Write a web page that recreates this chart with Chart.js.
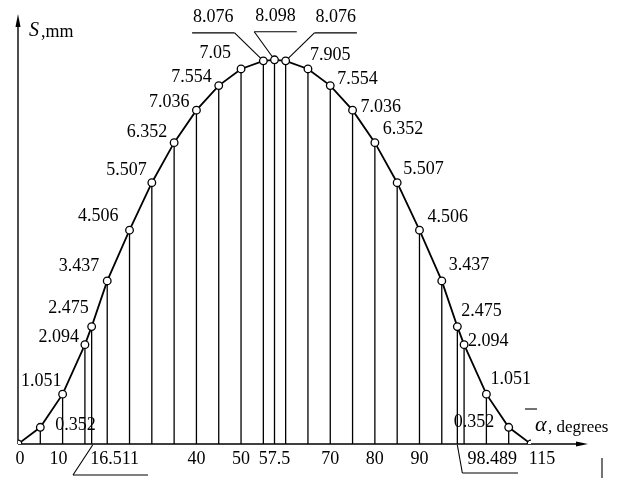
<!DOCTYPE html>
<html>
<head>
<meta charset="utf-8">
<script src="https://cdn.jsdelivr.net/npm/chart.js@4.4.0/dist/chart.umd.min.js"></script>
<style>
  html, body { margin:0; padding:0; background:#fff; }
  #wrap { width:625px; height:479px; }
</style>
</head>
<body>
<div id="wrap"><canvas id="cam" width="625" height="479"></canvas></div>
<script>
// ===== data =====
var ANGLES = [0, 5, 10, 15, 16.511, 20, 25, 30, 35, 40, 45, 50, 55, 57.5, 60, 65, 70, 75, 80, 85, 90, 95, 98.489, 100, 105, 110, 115];
var DISP = [0, 0.352, 1.051, 2.094, 2.475, 3.437, 4.506, 5.507, 6.352, 7.036, 7.554, 7.905, 8.076, 8.098, 8.076, 7.905, 7.554, 7.036, 6.352, 5.507, 4.506, 3.437, 2.475, 2.094, 1.051, 0.352, 0];
var POINT_LABELS = ["", "0.352", "1.051", "2.094", "2.475", "3.437", "4.506", "5.507", "6.352", "7.036", "7.554", "7.05", "8.076", "8.098", "8.076", "7.905", "7.554", "7.036", "6.352", "5.507", "4.506", "3.437", "2.475", "2.094", "1.051", "0.352", ""];
var X_TICKS = [0, 10, 16.511, 40, 50, 57.5, 70, 80, 90, 98.489, 115];
var X_TICK_LABELS = ["0", "10", "16.511", "40", "50", "57.5", "70", "80", "90", "98.489", "115"];

var FONT = "'Liberation Serif', 'DejaVu Serif', serif";

// label nudges: [align, dx, dy] relative to the point
var NUDGE = {
  1: ["left", 15, -2],   2: ["right", -1, -13], 3: ["right", -6, -7],  4: ["right", -3, -18],
  5: ["right", -8, -15], 6: ["right", -11, -14], 7: ["right", -5, -12], 8: ["right", -7, -10],
  9: ["right", -7, -8],  10: ["right", -7, -8], 11: ["right", -10, -16],
  15: ["left", 2, -14],  16: ["left", 7, -6],   17: ["left", 8, -3],   18: ["left", 8, -13],
  19: ["left", 6, -13],  20: ["left", 8, -13],  21: ["left", 7, -16],  22: ["left", 4, -15],
  23: ["left", 4, -3],   24: ["left", 4, -15],  25: ["left", -55, -5]
};
// top three labels with leaders: [index, text centre dx, leader from underline end]
var TOP = [[12, -50, "right"], [13, 1, "left"], [14, 50, "left"]];
var TICK_DX = { "0": 2, "10": -4, "16.511": 23, "98.489": 35, "115": 11 };

function line(ctx, x1, y1, x2, y2) {
  ctx.beginPath(); ctx.moveTo(x1, y1); ctx.lineTo(x2, y2); ctx.stroke();
}

var camPlugin = {
  id: "cam",
  beforeDatasetsDraw: function (chart) {
    var ctx = chart.ctx, xs = chart.scales.x, ys = chart.scales.y;
    var y0 = ys.getPixelForValue(0), x0 = xs.getPixelForValue(0);
    ctx.save();
    ctx.strokeStyle = "#000"; ctx.fillStyle = "#000";
    // axes
    ctx.lineWidth = 1.4;
    line(ctx, x0, y0, 582, y0);
    line(ctx, x0, y0, x0, 22);
    ctx.beginPath(); ctx.moveTo(588, y0); ctx.lineTo(576, y0 - 2.5); ctx.lineTo(576, y0 + 2.5); ctx.closePath(); ctx.fill();
    ctx.beginPath(); ctx.moveTo(x0, 14); ctx.lineTo(x0 - 2.5, 27); ctx.lineTo(x0 + 2.5, 27); ctx.closePath(); ctx.fill();
    // verticals from each point
    ctx.lineWidth = 1.3;
    for (var i = 0; i < ANGLES.length; i++) {
      if (DISP[i] <= 0) continue;
      var px = xs.getPixelForValue(ANGLES[i]);
      line(ctx, px, ys.getPixelForValue(DISP[i]), px, y0);
    }
    // top leaders
    ctx.font = "18px " + FONT;
    ctx.lineWidth = 1.1;
    TOP.forEach(function (t) {
      var px = xs.getPixelForValue(ANGLES[t[0]]), py = ys.getPixelForValue(DISP[t[0]]);
      var w = ctx.measureText(POINT_LABELS[t[0]]).width;
      var cx = px + t[1], uy = py - 28;
      line(ctx, cx - w / 2 - 1, uy, cx + w / 2 + 1, uy);
      var sx = t[2] === "right" ? cx + w / 2 + 1 : cx - w / 2 - 1;
      line(ctx, sx, uy, px, py);
    });
    // x tick leaders
    var a = xs.getPixelForValue(16.511);
    line(ctx, a + 1, y0 + 1, 73, 475); line(ctx, 73, 475, 148, 475);
    var b = xs.getPixelForValue(98.489);
    line(ctx, b, y0 + 1, b + 5, 473); line(ctx, b + 5, 473, 518, 473);
    // stray marks in the scan
    line(ctx, 525, 409, 537, 409);
    line(ctx, 602, 458, 602, 478);
    ctx.restore();
  },
  afterDatasetsDraw: function (chart) {
    var ctx = chart.ctx, xs = chart.scales.x, ys = chart.scales.y;
    ctx.save();
    ctx.fillStyle = "#000";
    ctx.font = "18px " + FONT;
    ctx.textBaseline = "middle";
    Object.keys(NUDGE).forEach(function (k) {
      var n = NUDGE[k];
      ctx.textAlign = n[0];
      ctx.fillText(POINT_LABELS[k], xs.getPixelForValue(ANGLES[k]) + n[1], ys.getPixelForValue(DISP[k]) + n[2]);
    });
    ctx.textAlign = "center";
    TOP.forEach(function (t) {
      ctx.fillText(POINT_LABELS[t[0]], xs.getPixelForValue(ANGLES[t[0]]) + t[1], ys.getPixelForValue(DISP[t[0]]) - 44);
    });
    // x ticks
    var y0 = ys.getPixelForValue(0);
    for (var i = 0; i < X_TICKS.length; i++) {
      var lab = X_TICK_LABELS[i];
      ctx.fillText(lab, xs.getPixelForValue(X_TICKS[i]) + (TICK_DX[lab] || 0), y0 + 15);
    }
    // axis titles
    ctx.textAlign = "left";
    ctx.font = "italic 20px " + FONT;
    ctx.fillText("S", 29, 31);
    ctx.font = "18px " + FONT;
    ctx.fillText(",mm", 41, 32);
    ctx.font = "italic 22px " + FONT;
    ctx.fillText("\u03b1", 535, 425);
    ctx.font = "17px " + FONT;
    ctx.fillText(", degrees", 548, 428);
    ctx.restore();
  }
};

var pts = ANGLES.map(function (a, i) { return { x: a, y: DISP[i] }; });

new Chart(document.getElementById("cam"), {
  type: "line",
  data: {
    datasets: [{
      data: pts,
      borderColor: "#000",
      borderWidth: 1.8,
      tension: 0,
      pointRadius: 3.8,
      pointBackgroundColor: "#fff",
      pointBorderColor: "#000",
      pointBorderWidth: 1.3
    }]
  },
  options: {
    responsive: false,
    animation: false,
    devicePixelRatio: 1,
    layout: { padding: { left: 18, right: 94, top: 17, bottom: 35 } },
    scales: {
      x: { type: "linear", min: 0, max: 115, display: false },
      y: { min: 0, max: 9, display: false }
    },
    plugins: { legend: { display: false }, tooltip: { enabled: false } }
  },
  plugins: [camPlugin]
});
</script>
</body>
</html>
